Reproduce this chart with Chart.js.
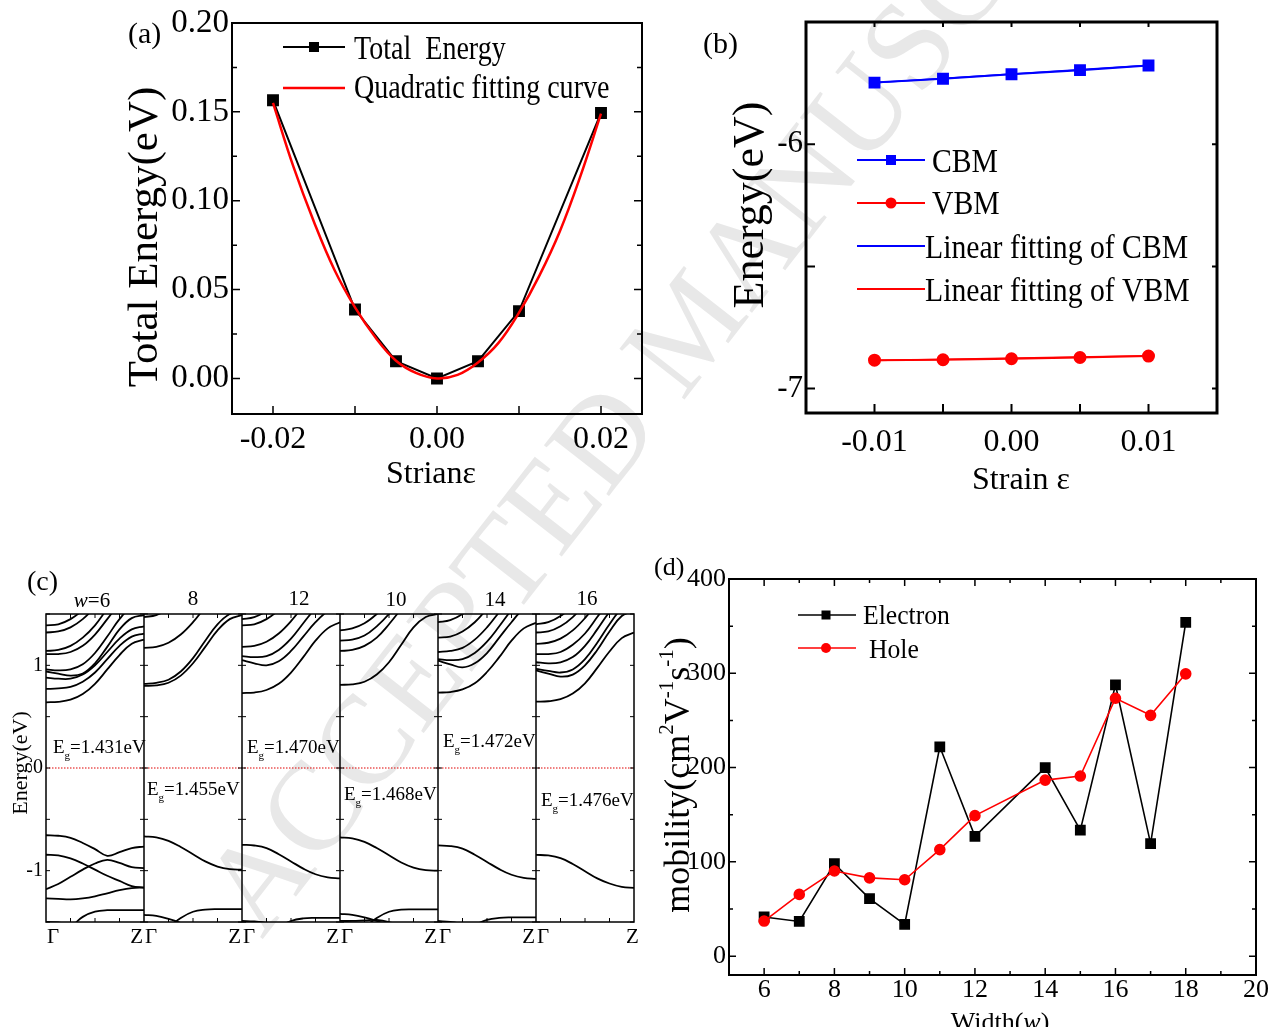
<!DOCTYPE html>
<html>
<head>
<meta charset="utf-8">
<title>Strain and mobility</title>
<script src="https://cdn.jsdelivr.net/npm/chart.js@4.4.1/dist/chart.umd.min.js"></script>
<style>
	body { margin: 0; background: #fff; }
	#page { position: relative; width: 1278px; height: 1027px; overflow: hidden; background: #fff; }
	#page canvas { position: absolute; }
</style>
</head>
<body>
<div id="page">
	<canvas id="mark" width="1278" height="1027" style="left:0;top:0"></canvas>
	<canvas id="chartA" width="580" height="500" style="left:100px;top:0"></canvas>
	<canvas id="chartB" width="588" height="500" style="left:690px;top:0"></canvas>
	<canvas id="chartC" width="660" height="400" style="left:0;top:560px"></canvas>
	<canvas id="chartD" width="638" height="487" style="left:640px;top:540px"></canvas>
</div>
<script>
var SERIF = "'Liberation Serif', 'Times New Roman', serif";

// (a) total energy against strain
var strainA = [-0.02, -0.01, -0.005, 0, 0.005, 0.01, 0.02];
var totalEnergy = [0.1565, 0.0388, 0.0097, 0.0, 0.0097, 0.0379, 0.1494];
var fitStrainA = [-0.02, -0.0175, -0.015, -0.0125, -0.01, -0.0075, -0.005, -0.0025, 0, 0.0025, 0.005, 0.0075, 0.01, 0.0125, 0.015, 0.0175, 0.02];
var fitEnergyA = [0.155, 0.119, 0.088, 0.061, 0.040, 0.023, 0.010, 0.003, 0.000, 0.002, 0.009, 0.020, 0.037, 0.058, 0.083, 0.114, 0.149];
var xLabelsA = [-0.02, 0, 0.02];
var yLabelsA = [0, 0.05, 0.10, 0.15, 0.20];

// (b) band edges against strain
var strainB = [-0.01, -0.005, 0, 0.005, 0.01];
var cbm = [-5.748, -5.732, -5.714, -5.697, -5.678];
var vbm = [-6.884, -6.882, -6.878, -6.873, -6.867];
var fitStrainB = [-0.01, 0.01];
var cbmFit = [-5.749, -5.677];
var vbmFit = [-6.885, -6.866];
var xLabelsB = [-0.01, 0, 0.01];
var yLabelsB = [-7, -6];

// (c) band structures, E(k) along Gamma-Z
var ribbonW = ['6', '8', '12', '10', '14', '16'];
var gapText = ['1.431', '1.455', '1.470', '1.468', '1.472', '1.476'];
var kPath = [0, 0.125, 0.25, 0.375, 0.5, 0.625, 0.75, 0.875, 1];
var fermiLevel = 0;
var yLabelsC = [-1, 0, 1];
var bandsW6 = [
	[0.64, 0.645, 0.665, 0.72, 0.82, 0.96, 1.10, 1.21, 1.25],
	[0.77, 0.775, 0.79, 0.84, 0.93, 1.06, 1.19, 1.28, 1.31],
	[0.88, 0.87, 0.87, 0.91, 1.00, 1.13, 1.26, 1.35, 1.38],
	[0.94, 0.92, 0.90, 0.92, 1.02, 1.18, 1.35, 1.46, 1.49],
	[0.96, 0.95, 0.96, 1.01, 1.12, 1.28, 1.45, 1.57, 1.60],
	[1.11, 1.11, 1.13, 1.19, 1.30, 1.45, 1.60, 1.70, 1.75],
	[1.14, 1.15, 1.19, 1.27, 1.39, 1.55, 1.70, 1.80, 1.85],
	[1.32, 1.33, 1.37, 1.45, 1.57, 1.72, 1.85, 1.95, 2.00],
	[1.39, 1.40, 1.45, 1.54, 1.67, 1.82, 1.95, 2.05, 2.10],
	[-0.655, -0.66, -0.68, -0.73, -0.79, -0.855, -0.82, -0.78, -0.765],
	[-0.845, -0.85, -0.88, -0.93, -0.99, -1.05, -1.10, -1.15, -1.165],
	[-1.18, -1.13, -1.06, -0.99, -0.93, -0.895, -0.925, -0.965, -0.975],
	[-1.27, -1.275, -1.28, -1.27, -1.25, -1.22, -1.19, -1.17, -1.165],
	[-1.50, -1.505, -1.53, -1.58],
	[-1.65, -1.62, -1.55, -1.45, -1.40, -1.385, -1.385, -1.385, -1.385]
];
var bandsW8 = [
	[0.80, 0.805, 0.83, 0.90, 1.02, 1.18, 1.34, 1.45, 1.49],
	[0.82, 0.83, 0.86, 0.94, 1.07, 1.24, 1.40, 1.50, 1.53],
	[1.17, 1.18, 1.22, 1.30, 1.42, 1.57, 1.72, 1.82, 1.85],
	[1.47, 1.49, 1.55, 1.64, 1.77],
	[-0.665, -0.675, -0.71, -0.77, -0.84, -0.91, -0.96, -0.985, -0.99],
	[-1.43, -1.44, -1.47, -1.51, -1.56],
	[-1.65, -1.62, -1.55, -1.46, -1.40, -1.38, -1.375, -1.375, -1.375]
];
var bandsW12 = [
	[0.73, 0.735, 0.76, 0.82, 0.93, 1.08, 1.24, 1.36, 1.42],
	[1.05, 1.02, 1.00, 1.04, 1.14, 1.28, 1.42, 1.53, 1.60],
	[1.09, 1.08, 1.09, 1.15, 1.26, 1.41, 1.56, 1.70, 1.75],
	[1.18, 1.19, 1.23, 1.31, 1.43, 1.58, 1.72, 1.85, 1.90],
	[1.39, 1.40, 1.45, 1.54, 1.67, 1.80, 1.90],
	[1.45, 1.47, 1.53, 1.63, 1.77],
	[-0.748, -0.755, -0.78, -0.84, -0.91, -0.98, -1.035, -1.065, -1.075],
	[-1.49, -1.495, -1.51, -1.55],
	[-1.65, -1.65, -1.62, -1.55, -1.49, -1.465, -1.46, -1.46, -1.46]
];
var bandsW10 = [
	[0.81, 0.815, 0.84, 0.91, 1.03, 1.20, 1.37, 1.47, 1.50],
	[1.14, 1.15, 1.19, 1.27, 1.40, 1.55, 1.70, 1.80, 1.85],
	[1.24, 1.25, 1.29, 1.38, 1.50, 1.65],
	[1.34, 1.36, 1.41, 1.50, 1.62],
	[-0.675, -0.685, -0.72, -0.78, -0.85, -0.92, -0.97, -0.995, -1.0],
	[-1.42, -1.43, -1.455, -1.49, -1.53, -1.58],
	[-1.65, -1.62, -1.55, -1.46, -1.40, -1.38, -1.377, -1.377, -1.377],
	[-1.49, -1.49, -1.485, -1.48, -1.50, -1.54]
];
var bandsW14 = [
	[0.734, 0.74, 0.765, 0.825, 0.935, 1.08, 1.24, 1.36, 1.415],
	[1.045, 1.01, 0.98, 1.02, 1.12, 1.27, 1.42, 1.55, 1.60],
	[1.06, 1.05, 1.06, 1.12, 1.23, 1.38, 1.54, 1.68, 1.70],
	[1.13, 1.14, 1.17, 1.25, 1.37, 1.52, 1.68, 1.80, 1.85],
	[1.27, 1.28, 1.33, 1.42, 1.55, 1.70, 1.85],
	[1.42, 1.44, 1.50, 1.60, 1.73],
	[-0.754, -0.76, -0.785, -0.845, -0.915, -0.985, -1.04, -1.07, -1.08],
	[-1.49, -1.50, -1.52, -1.56],
	[-1.65, -1.65, -1.60, -1.53, -1.48, -1.46, -1.455, -1.455, -1.455]
];
var bandsW16 = [
	[0.646, 0.65, 0.67, 0.725, 0.825, 0.975, 1.135, 1.265, 1.32],
	[0.95, 0.92, 0.89, 0.91, 1.00, 1.15, 1.33, 1.48, 1.53],
	[0.965, 0.945, 0.93, 0.96, 1.06, 1.22, 1.40, 1.55, 1.60],
	[1.03, 1.02, 1.03, 1.08, 1.19, 1.35, 1.52, 1.65, 1.70],
	[1.11, 1.11, 1.13, 1.20, 1.31, 1.47, 1.63, 1.75, 1.80],
	[1.21, 1.22, 1.26, 1.34, 1.46, 1.61, 1.76, 1.88, 1.90],
	[1.32, 1.33, 1.38, 1.47, 1.60, 1.75, 1.90],
	[1.40, 1.42, 1.48, 1.58, 1.72, 1.87],
	[-0.846, -0.852, -0.878, -0.935, -1.005, -1.075, -1.125, -1.158, -1.167]
];

// (d) carrier mobility against ribbon width
var widthW = [6, 7, 8, 9, 10, 11, 12, 14, 15, 16, 17, 18];
var electronMob = [41.5, 36.8, 98, 61, 33.7, 222, 127, 200, 133.6, 287.7, 119.4, 354];
var holeMob = [37.2, 65.5, 90.3, 83, 81, 113, 149, 186.7, 191, 273.5, 255.4, 299.4];
var xLabelsD = [6, 8, 10, 12, 14, 16, 18, 20];
var yLabelsD = [0, 100, 200, 300, 400];

var watermark = 'ACCEPTED MANUSCRIPT';

function pts(xs, ys) {
	return ys.map(function (y, i) {
		return { x: xs[i], y: y };
	});
}

function steps(from, to, step) {
	var out = [];
	for (var v = from; v <= to + step / 1000; v += step) out.push(+v.toFixed(6));
	return out;
}

function axis(which, min, max, ticks, fmt, size, pad, thick) {
	return {
		type: 'linear',
		min: min,
		max: max,
		grid: { display: false, drawTicks: false },
		border: { display: false },
		afterBuildTicks: function (s) {
			s.ticks = ticks.map(function (v) { return { value: v }; });
		},
		afterFit: function (s) {
			if (which === 'x') s.height = thick;
			else s.width = thick;
		},
		ticks: {
			display: size > 0,
			color: '#000',
			padding: pad,
			autoSkip: false,
			maxRotation: 0,
			font: { family: SERIF, size: size || 10 },
			callback: fmt
		}
	};
}

function options(padding, x, y) {
	return {
		responsive: false,
		animation: false,
		events: [],
		layout: { padding: padding },
		elements: { line: { capBezierPoints: false } },
		plugins: { legend: { display: false }, tooltip: { enabled: false } },
		scales: { x: x, y: y }
	};
}

function say(ctx, s, x, y, size, opt) {
	opt = opt || {};
	ctx.font = (opt.style || '') + ' ' + size + 'px ' + SERIF;
	ctx.textAlign = opt.align || 'left';
	ctx.textBaseline = 'alphabetic';
	ctx.fillStyle = opt.color || '#000';
	ctx.save();
	ctx.translate(x, y);
	if (opt.rot) ctx.rotate(opt.rot);
	ctx.scale(opt.sx || 1, 1);
	ctx.fillText(s, 0, 0);
	ctx.restore();
}

// runs of text with sub/superscripts: [text, size, dy, style]
function runs(ctx, parts, x, y, align, rot) {
	ctx.save();
	ctx.translate(x, y);
	if (rot) ctx.rotate(rot);
	ctx.textBaseline = 'alphabetic';
	ctx.textAlign = 'left';
	ctx.fillStyle = '#000';
	var w = 0;
	parts.forEach(function (p) {
		ctx.font = (p[3] || '') + ' ' + p[1] + 'px ' + SERIF;
		p.w = ctx.measureText(p[0]).width;
		w += p.w;
	});
	var cx = align === 'center' ? -w / 2 : 0;
	parts.forEach(function (p) {
		ctx.font = (p[3] || '') + ' ' + p[1] + 'px ' + SERIF;
		ctx.fillText(p[0], cx, p[2] || 0);
		cx += p.w;
	});
	ctx.restore();
}

function symbol(ctx, kind, x, y, size, color) {
	ctx.fillStyle = color;
	if (kind === 'rect') {
		ctx.fillRect(x - size / 2, y - size / 2, size, size);
	} else {
		ctx.beginPath();
		ctx.arc(x, y, size / 2, 0, Math.PI * 2);
		ctx.fill();
	}
}

function hline(ctx, x1, x2, y, color, lw) {
	ctx.strokeStyle = color;
	ctx.lineWidth = lw;
	ctx.beginPath();
	ctx.moveTo(x1, y);
	ctx.lineTo(x2, y);
	ctx.stroke();
}

// frame, inward tick marks and free text of one panel
function boxPlugin(spec) {
	return {
		id: 'box',
		afterDatasetsDraw: function (chart) {
			var ctx = chart.ctx;
			var a = chart.chartArea;
			var sx = chart.scales.x;
			var sy = chart.scales.y;
			ctx.save();
			ctx.strokeStyle = '#000';
			ctx.lineWidth = spec.tickWidth || 1.5;
			ctx.beginPath();
			(spec.bottom || []).forEach(function (t) {
				var px = sx.getPixelForValue(t[0]);
				ctx.moveTo(px, a.bottom);
				ctx.lineTo(px, a.bottom - t[1]);
			});
			(spec.top || []).forEach(function (t) {
				var px = sx.getPixelForValue(t[0]);
				ctx.moveTo(px, a.top);
				ctx.lineTo(px, a.top + t[1]);
			});
			(spec.left || []).forEach(function (t) {
				var py = sy.getPixelForValue(t[0]);
				var x0 = t[2] === undefined ? a.left : sx.getPixelForValue(t[2]);
				ctx.moveTo(x0, py);
				ctx.lineTo(x0 + t[1], py);
			});
			(spec.right || []).forEach(function (t) {
				var py = sy.getPixelForValue(t[0]);
				var x0 = t[2] === undefined ? a.right : sx.getPixelForValue(t[2]);
				ctx.moveTo(x0, py);
				ctx.lineTo(x0 - t[1], py);
			});
			ctx.stroke();
			ctx.lineWidth = spec.lw;
			ctx.strokeRect(a.left, a.top, a.right - a.left, a.bottom - a.top);
			ctx.translate(-spec.ox, -spec.oy);
			if (spec.draw) spec.draw(ctx, chart);
			ctx.restore();
		}
	};
}

function marks(list, len) {
	return list.map(function (v) { return [v, len]; });
}

var fmt2 = function (v) { return v.toFixed(2); };
var fmtInt = function (v) { return String(v); };

// watermark behind the charts
var mk = document.getElementById('mark').getContext('2d');
mk.save();
mk.translate(262, 940);
mk.rotate(-52 * Math.PI / 180);
mk.font = '126px ' + SERIF;
mk.fillStyle = '#e8e8e8';
mk.fillText(watermark, 0, 0);
mk.restore();

// ---------- (a) ----------
new Chart(document.getElementById('chartA'), {
	type: 'line',
	data: {
		datasets: [{
			label: 'Quadratic fitting curve',
			data: pts(fitStrainA, fitEnergyA),
			borderColor: '#ff0000',
			borderWidth: 2.5,
			pointRadius: 0,
			tension: 0.4,
			fill: false
		}, {
			label: 'Total  Energy',
			data: pts(strainA, totalEnergy),
			borderColor: '#000',
			backgroundColor: '#000',
			borderWidth: 2,
			pointStyle: 'rect',
			pointRadius: 7,
			tension: 0,
			fill: false
		}]
	},
	options: options(
		{ left: 0, top: 23, right: 38, bottom: 0 },
		axis('x', -0.025, 0.025, xLabelsA, fmt2, 32, 6, 86),
		axis('y', -0.02, 0.20, yLabelsA, fmt2, 33, 3, 132)
	),
	plugins: [boxPlugin({
		ox: 100, oy: 0, lw: 2, tickWidth: 1.5,
		bottom: marks(steps(-0.02, 0.02, 0.01), 8),
		left: marks(steps(0, 0.2, 0.05), 8).concat(marks(steps(0.025, 0.175, 0.05), 5)),
		right: marks(steps(0, 0.2, 0.05), 8).concat(marks(steps(0.025, 0.175, 0.05), 5)),
		draw: function (ctx) {
			say(ctx, '(a)', 128, 43, 30);
			hline(ctx, 283, 345, 47, '#000', 2);
			symbol(ctx, 'rect', 314, 47, 10, '#000');
			say(ctx, 'Total  Energy', 354, 59, 33, { sx: 0.85 });
			hline(ctx, 283, 345, 88, '#ff0000', 2.5);
			say(ctx, 'Quadratic fitting curve', 354, 98, 33, { sx: 0.85 });
			say(ctx, 'Strian\u03b5', 431, 483, 32, { align: 'center' });
			say(ctx, 'Total Energy(eV)', 157, 237, 43, { align: 'center', rot: -Math.PI / 2 });
		}
	})]
});

// ---------- (b) ----------
new Chart(document.getElementById('chartB'), {
	type: 'line',
	data: {
		datasets: [{
			label: 'CBM',
			data: pts(strainB, cbm),
			borderColor: '#0000ff',
			backgroundColor: '#0000ff',
			borderWidth: 2,
			pointStyle: 'rect',
			pointRadius: 7,
			fill: false
		}, {
			label: 'VBM',
			data: pts(strainB, vbm),
			borderColor: '#ff0000',
			backgroundColor: '#ff0000',
			borderWidth: 2,
			pointStyle: 'circle',
			pointRadius: 5.5,
			fill: false
		}, {
			label: 'Linear fitting of CBM',
			data: pts(fitStrainB, cbmFit),
			borderColor: '#0000ff',
			borderWidth: 1.5,
			pointRadius: 0,
			fill: false
		}, {
			label: 'Linear fitting of VBM',
			data: pts(fitStrainB, vbmFit),
			borderColor: '#ff0000',
			borderWidth: 1.5,
			pointRadius: 0,
			fill: false
		}]
	},
	options: options(
		{ left: 0, top: 22, right: 61, bottom: 0 },
		axis('x', -0.015, 0.015, xLabelsB, fmt2, 32, 10, 87),
		axis('y', -7.1, -5.5, yLabelsB, fmtInt, 31, 3, 116)
	),
	plugins: [boxPlugin({
		ox: 690, oy: 0, lw: 3, tickWidth: 2,
		bottom: marks(steps(-0.01, 0.01, 0.005), 9),
		top: marks(steps(-0.01, 0.01, 0.005), 5),
		left: marks([-7, -6.5, -6], 9),
		right: marks([-7, -6.5, -6], 5),
		draw: function (ctx) {
			say(ctx, '(b)', 703, 53, 30);
			hline(ctx, 857, 925, 160, '#0000ff', 2);
			symbol(ctx, 'rect', 891, 160, 10, '#0000ff');
			say(ctx, 'CBM', 932, 172, 33, { sx: 0.9 });
			hline(ctx, 857, 925, 203, '#ff0000', 2);
			symbol(ctx, 'circle', 891, 203, 11, '#ff0000');
			say(ctx, 'VBM', 932, 214, 33, { sx: 0.9 });
			hline(ctx, 857, 925, 246, '#0000ff', 2);
			say(ctx, 'Linear fitting of CBM', 925, 258, 33, { sx: 0.9 });
			hline(ctx, 857, 925, 289, '#ff0000', 2);
			say(ctx, 'Linear fitting of VBM', 925, 301, 33, { sx: 0.9 });
			say(ctx, 'Strain \u03b5', 1021, 489, 32, { align: 'center' });
			say(ctx, 'Energy(eV)', 763, 205, 44, { align: 'center', rot: -Math.PI / 2 });
		}
	})]
});

// ---------- (c) ----------
var bandPanels = [bandsW6, bandsW8, bandsW12, bandsW10, bandsW14, bandsW16];
var datasetsC = [{
	label: 'E_F',
	data: [{ x: 0, y: fermiLevel }, { x: bandPanels.length, y: fermiLevel }],
	borderColor: '#e00000',
	borderWidth: 1,
	borderDash: [1.5, 1.5],
	pointRadius: 0,
	fill: false
}];
bandPanels.forEach(function (bands, p) {
	bands.forEach(function (b) {
		datasetsC.push({
			data: b.map(function (e, j) { return { x: p + kPath[j], y: e }; }),
			borderColor: '#000',
			borderWidth: 1.8,
			pointRadius: 0,
			tension: 0.4,
			fill: false
		});
	});
});

var leftC = [], rightC = [], quarterC = [];
for (var p = 0; p < 6; p++) {
	steps(-1.5, 1.5, 0.5).forEach(function (v) {
		leftC.push([v, 4, p]);
		rightC.push([v, 4, p + 1]);
	});
	[0.25, 0.5, 0.75].forEach(function (k) { quarterC.push([p + k, 4]); });
}

new Chart(document.getElementById('chartC'), {
	type: 'line',
	data: { datasets: datasetsC },
	options: options(
		{ left: 0, top: 54, right: 26, bottom: 0 },
		axis('x', 0, 6, [], fmtInt, 0, 0, 38),
		axis('y', -1.5, 1.5, yLabelsC, fmtInt, 20, 3, 46)
	),
	plugins: [boxPlugin({
		ox: 0, oy: 560, lw: 1.5, tickWidth: 1,
		bottom: quarterC,
		top: quarterC,
		left: leftC,
		right: rightC,
		draw: function (ctx, chart) {
			var sx = chart.scales.x;
			var a = chart.chartArea;
			ctx.strokeStyle = '#000';
			ctx.lineWidth = 1.5;
			ctx.beginPath();
			for (var i = 1; i < 6; i++) {
				var px = sx.getPixelForValue(i);
				ctx.moveTo(px, a.top + 560);
				ctx.lineTo(px, a.bottom + 560);
			}
			ctx.stroke();
			say(ctx, '(c)', 27, 590, 28);
			say(ctx, 'Energy(eV)', 27, 763, 22, { align: 'center', rot: -Math.PI / 2 });
			var topX = [92, 193, 299, 396, 495, 587];
			var topY = [607, 605, 605, 606, 606, 605];
			ribbonW.forEach(function (w, i) {
				if (i === 0) {
					runs(ctx, [['w', 21, 0, 'italic'], ['=' + w, 21]], topX[i], topY[i], 'center');
				} else {
					say(ctx, w, topX[i], topY[i], 21, { align: 'center' });
				}
				var l = sx.getPixelForValue(i);
				var r = sx.getPixelForValue(i + 1);
				say(ctx, '\u0393', l + 1, 943, 21);
				if (i < 5) say(ctx, 'Z', r - 1, 943, 21, { align: 'right' });
				else say(ctx, 'Z', r - 8, 943, 21);
			});
			var gapX = [53, 147, 247, 344, 443, 541];
			var gapY = [753, 795, 753, 800, 747, 806];
			gapText.forEach(function (g, i) {
				runs(ctx, [['E', 19], ['g', 11, 6], ['=' + g + 'eV', 19]], gapX[i], gapY[i], 'left');
			});
		}
	})]
});

// ---------- (d) ----------
new Chart(document.getElementById('chartD'), {
	type: 'line',
	data: {
		datasets: [{
			label: 'Hole',
			data: pts(widthW, holeMob),
			borderColor: '#ff0000',
			backgroundColor: '#ff0000',
			borderWidth: 1.6,
			pointStyle: 'circle',
			pointRadius: 5,
			fill: false
		}, {
			label: 'Electron',
			data: pts(widthW, electronMob),
			borderColor: '#000',
			backgroundColor: '#000',
			borderWidth: 1.6,
			pointStyle: 'rect',
			pointRadius: 6.5,
			fill: false
		}]
	},
	options: options(
		{ left: 0, top: 39, right: 22, bottom: 0 },
		axis('x', 5, 20, xLabelsD, fmtInt, 26, 0, 52),
		axis('y', -20, 400, yLabelsD, fmtInt, 26, 3, 89)
	),
	plugins: [boxPlugin({
		ox: 640, oy: 540, lw: 2, tickWidth: 1.5,
		bottom: marks(steps(6, 20, 2), 7).concat(marks(steps(7, 19, 2), 4)),
		top: marks(steps(6, 20, 2), 7).concat(marks(steps(7, 19, 2), 4)),
		left: marks(steps(0, 400, 100), 7).concat(marks(steps(50, 350, 100), 4)),
		right: marks(steps(0, 400, 100), 7).concat(marks(steps(50, 350, 100), 4)),
		draw: function (ctx) {
			say(ctx, '(d)', 654, 575, 26);
			hline(ctx, 798, 856, 615, '#000', 1.6);
			symbol(ctx, 'rect', 826, 615, 9, '#000');
			say(ctx, 'Electron', 863, 624, 27, { sx: 0.95 });
			hline(ctx, 798, 856, 648, '#ff0000', 1.6);
			symbol(ctx, 'circle', 826, 648, 10, '#ff0000');
			say(ctx, 'Hole', 869, 658, 27, { sx: 0.95 });
			runs(ctx, [['Width(', 26], ['w', 26, 0, 'italic'], [')', 26]], 1000, 1030, 'center');
			runs(ctx, [
				['mobility(cm', 36],
				['2', 21, -16],
				['V', 36],
				['-1', 21, -16],
				['s', 36],
				['-1', 21, -16],
				[')', 36]
			], 689, 775, 'center', -Math.PI / 2);
		}
	})]
});
</script>
</body>
</html>
